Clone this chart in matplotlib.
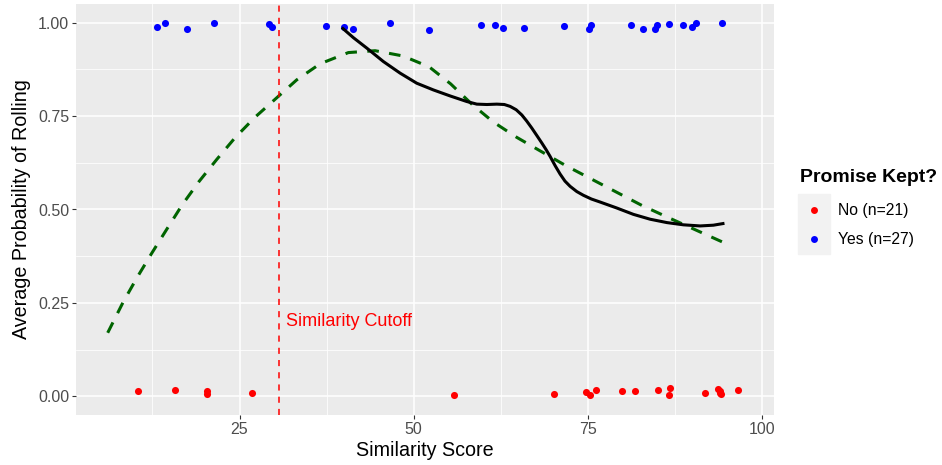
import numpy as np
import matplotlib
matplotlib.use('Agg')
import matplotlib.pyplot as plt
from matplotlib.lines import Line2D

plt.rcParams['font.family'] = ['Liberation Sans', 'DejaVu Sans']

# promise kept (blue points at the top)
yes_x = [13.20, 14.26, 17.42, 21.34, 29.19, 29.66, 37.42, 40.00, 41.33, 46.60,
         52.20, 59.71, 61.63, 62.78, 65.88, 71.53, 75.17, 75.45, 81.19, 82.96,
         84.68, 84.97, 86.65, 88.61, 89.95, 90.52, 94.30]
yes_y = [0.989, 1.000, 0.983, 1.000, 0.996, 0.988, 0.991, 0.988, 0.982, 1.000,
         0.981, 0.994, 0.994, 0.987, 0.987, 0.991, 0.983, 0.994, 0.994, 0.984,
         0.983, 0.993, 0.997, 0.994, 0.988, 1.000, 1.000]

# promise not kept (red points at the bottom)
no_x = [10.47, 15.70, 20.38, 20.38, 26.79, 55.75, 70.14, 74.73, 75.31, 76.13,
        79.95, 81.77, 85.11, 86.79, 86.69, 91.77, 93.68, 93.97, 94.11, 94.00,
        96.55]
no_y = [0.014, 0.016, 0.013, 0.005, 0.008, 0.003, 0.007, 0.012, 0.003, 0.018,
        0.013, 0.015, 0.016, 0.021, 0.004, 0.009, 0.019, 0.013, 0.006, 0.010,
        0.017]

# dashed green fit
fit_x = [6.08, 8.32, 10.39, 12.40, 14.55, 16.79, 19.19, 21.73, 24.35, 27.22,
         30.10, 33.21, 36.56, 40.62, 44.45, 48.43, 52.20, 55.31, 58.33, 61.43,
         64.79, 68.13, 71.86, 75.55, 79.14, 82.73, 86.46, 90.14, 94.54]
fit_y = [0.170, 0.253, 0.321, 0.383, 0.447, 0.513, 0.575, 0.634, 0.692, 0.747,
         0.795, 0.847, 0.890, 0.920, 0.925, 0.911, 0.882, 0.836, 0.782, 0.734,
         0.693, 0.657, 0.617, 0.581, 0.546, 0.511, 0.479, 0.448, 0.411]

# black smooth line
smooth_x = [39.67, 41.33, 43.26, 45.64, 48.04, 50.43, 52.82, 55.21, 57.61, 59.05,
            60.50, 61.92, 63.00, 63.83, 64.70, 65.51, 66.20, 66.94, 67.70, 68.38,
            69.00, 69.57, 70.30, 71.00, 71.70, 72.44, 73.40, 74.35, 75.50, 76.74,
            79.14, 81.52, 83.92, 86.32, 88.70, 91.10, 93.00, 94.59]
smooth_y = [0.987, 0.960, 0.932, 0.896, 0.865, 0.838, 0.820, 0.804, 0.789, 0.782,
            0.781, 0.782, 0.781, 0.776, 0.767, 0.753, 0.737, 0.718, 0.697, 0.678,
            0.660, 0.642, 0.617, 0.595, 0.576, 0.562, 0.548, 0.538, 0.528, 0.520,
            0.504, 0.487, 0.474, 0.465, 0.459, 0.456, 0.458, 0.463]

cutoff = 30.67
labels = ['No (n=21)', 'Yes (n=27)']
colors = ['red', 'blue']

fig = plt.figure(figsize=(9.42, 4.65), dpi=100)
ax = fig.add_axes([76 / 942, 50 / 465, 698 / 942, 411 / 465])
ax.set_facecolor('#EBEBEB')
for s in ax.spines.values():
    s.set_visible(False)

ax.set_xlim(1.53, 101.7)
ax.set_ylim(-0.05, 1.05)
ax.set_xticks([25, 50, 75, 100])
ax.set_yticks([0, 0.25, 0.5, 0.75, 1.0])
ax.set_yticklabels(['0.00', '0.25', '0.50', '0.75', '1.00'])
ax.set_xticks([12.5, 37.5, 62.5, 87.5], minor=True)
ax.set_yticks([0.125, 0.375, 0.625, 0.875], minor=True)
ax.grid(True, which='major', color='white', lw=1.1)
ax.grid(True, which='minor', color='white', lw=0.55)
ax.set_axisbelow(True)
ax.tick_params(which='major', length=3, width=0.8, color='#333333',
               labelsize=11.5, labelcolor='#4D4D4D', pad=2)
ax.tick_params(which='minor', length=0)

ax.scatter(no_x, no_y, s=26, color='red', zorder=3, linewidths=0)
ax.scatter(yes_x, yes_y, s=26, color='blue', zorder=3, linewidths=0)
ax.plot(fit_x, fit_y, color='darkgreen', lw=2.2, ls=(0, (3.8, 3.4)), zorder=4)
ax.plot(smooth_x, smooth_y, color='black', lw=2.2, zorder=5, solid_capstyle='butt')
ax.axvline(cutoff, color='red', lw=1.1, ls=(0, (4, 4)), zorder=4)
ax.text(cutoff + 1.0, 0.2, 'Similarity Cutoff', color='red', fontsize=13,
        ha='left', va='center')

ax.set_xlabel('Similarity Score', fontsize=14.2, labelpad=3)
ax.set_ylabel('Average Probability of Rolling', fontsize=14.2, labelpad=5)

# legend drawn by hand, ggplot style
fig.text(800 / 942, 1 - 177 / 465, 'Promise Kept?', fontsize=14, fontweight='bold',
         ha='left', va='center')
fig.patches.append(plt.Rectangle((798 / 942, 1 - 254 / 465), 32 / 942, 60 / 465,
                                 transform=fig.transFigure, color='#F2F2F2',
                                 zorder=-1))
for i, (lab, c) in enumerate(zip(labels, colors)):
    yy = 1 - (210 + 29 * i) / 465
    fig.add_artist(Line2D([814 / 942], [yy], transform=fig.transFigure, ls='',
                          marker='o', ms=5, color=c, mec='none'))
    fig.text(838 / 942, yy, lab, fontsize=11.3, ha='left', va='center')

plt.savefig('out.png', dpi=100)
